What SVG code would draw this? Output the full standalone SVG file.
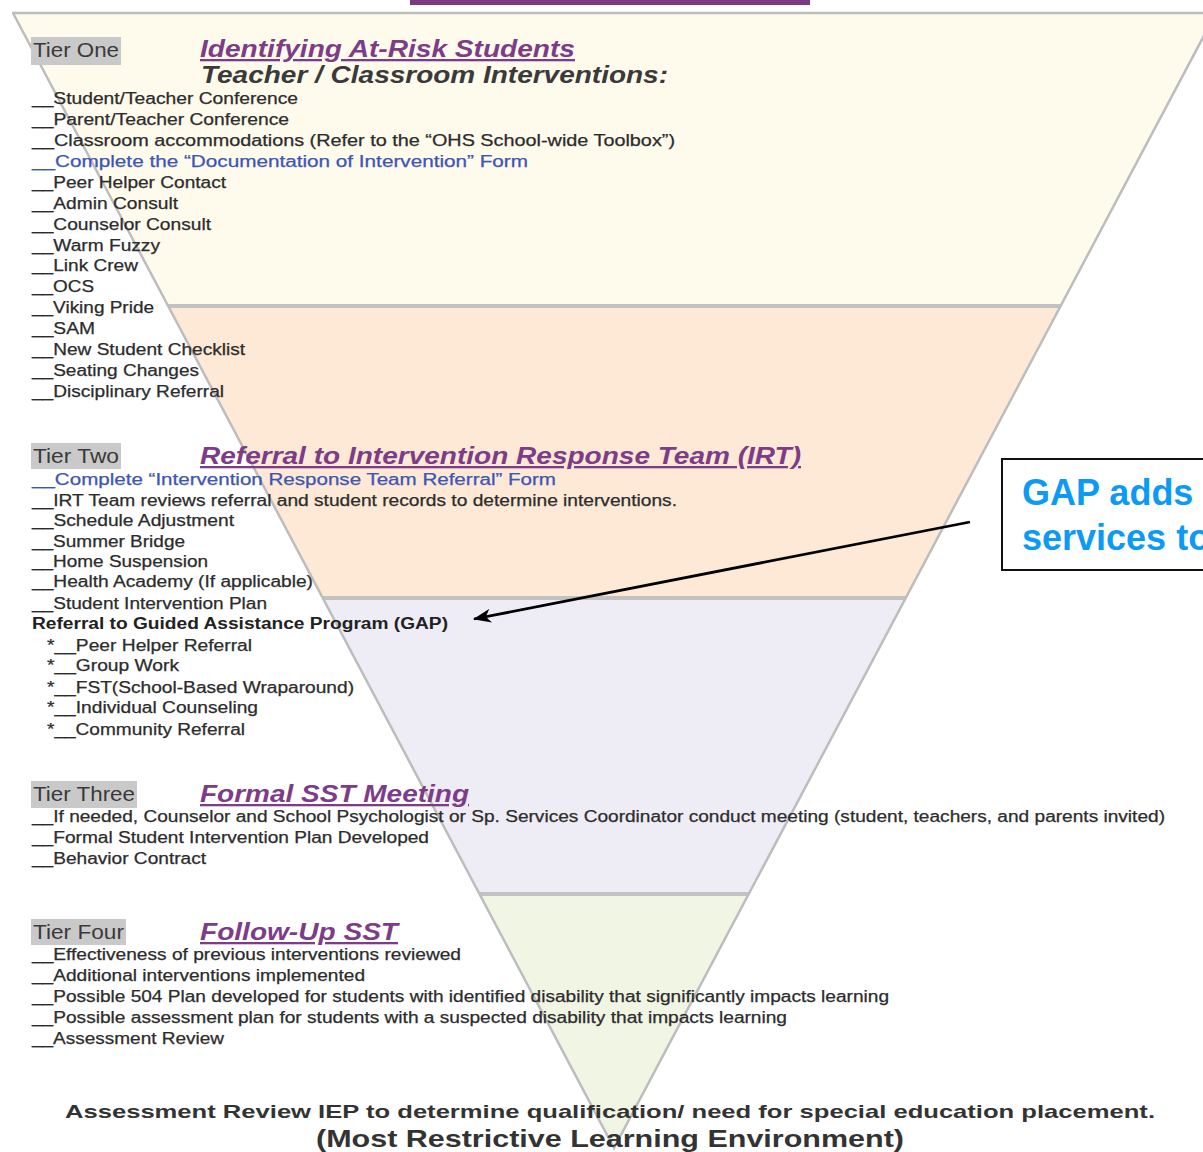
<svg xmlns="http://www.w3.org/2000/svg" width="1203" height="1152" viewBox="0 0 1203 1152">
<style>
  .txt { font-family: "Liberation Sans", Arial, sans-serif; font-size: 16px; fill: #2c2c2c; stroke: #2c2c2c; stroke-width: 0.25; }
  .blue { fill: #3d55b5; stroke: #3d55b5; }
  .gap { fill: #222; stroke: #222; font-weight: bold; stroke-width: 0; }
  .tier { font-family: "Liberation Sans", Arial, sans-serif; font-size: 21px; fill: #3a3a3a; }
  .tierbg { fill: #c9c9c9; }
  .head { font-family: "Liberation Sans", Arial, sans-serif; font-size: 23px; font-weight: bold; font-style: italic; fill: #7d3c87; text-decoration: underline; }
  .sub { font-family: "Liberation Sans", Arial, sans-serif; font-size: 23px; font-weight: bold; font-style: italic; fill: #3a3a3a; }
  .edge { stroke: #bdbdbd; stroke-width: 2.5; fill: none; }
  .divider { stroke: #c2c2c2; stroke-width: 4; fill: none; }
  .bottom { font-family: "Liberation Sans", Arial, sans-serif; font-weight: bold; fill: #333; }
  .callout { font-family: "Liberation Sans", Arial, sans-serif; font-size: 36px; font-weight: bold; fill: #0d9af5; }
</style>
<defs>
  <marker id="arrow" viewBox="0 0 18 14" refX="17" refY="7" markerWidth="18" markerHeight="14" markerUnits="userSpaceOnUse" orient="auto">
    <path d="M18,7 L0,0 L5,7 L0,14 Z" fill="#000"/>
  </marker>
</defs>
<rect x="0" y="0" width="1203" height="1152" fill="#ffffff"/>
<rect x="410" y="0" width="400" height="5" fill="#7b3b82"/>

<g id="funnel">
  <polygon points="13,13 1216,13 1060.6,306 168.1,306" fill="#fffbec"/>
  <polygon points="168.1,306 1060.6,306 905.7,598 322.8,598" fill="#fde9d5"/>
  <polygon points="322.8,598 905.7,598 748.7,894 479.5,894" fill="#eeedf6"/>
  <polygon points="479.5,894 748.7,894 614,1148" fill="#f1f5e4"/>
  <line class="divider" x1="168" y1="306" x2="1061" y2="306"/>
  <line class="divider" x1="323" y1="598" x2="906" y2="598"/>
  <line class="divider" x1="480" y1="894" x2="749" y2="894"/>
  <polyline class="edge" points="13,13 614,1148 1216,13"/>
  <line class="edge" x1="12" y1="13" x2="1216" y2="13" stroke-width="3.5"/>
</g>

<g id="tier-one">
  <rect class="tierbg" x="31" y="37" width="90" height="28"/>
  <text class="tier" x="33" y="57" textLength="86" lengthAdjust="spacingAndGlyphs">Tier One</text>
  <text class="head" x="200" y="57" textLength="375" lengthAdjust="spacingAndGlyphs">Identifying At-Risk Students</text>
  <text class="sub" x="201" y="83" textLength="467" lengthAdjust="spacingAndGlyphs">Teacher / Classroom Interventions:</text>
  <text class="txt" x="32" y="104" textLength="266" lengthAdjust="spacingAndGlyphs">__Student/Teacher Conference</text>
  <text class="txt" x="32" y="125" textLength="257" lengthAdjust="spacingAndGlyphs">__Parent/Teacher Conference</text>
  <text class="txt" x="32" y="146" textLength="643" lengthAdjust="spacingAndGlyphs">__Classroom accommodations (Refer to the “OHS School-wide Toolbox”)</text>
  <text class="txt blue" x="32" y="167" textLength="496" lengthAdjust="spacingAndGlyphs">__Complete the “Documentation of Intervention” Form</text>
  <text class="txt" x="32" y="188" textLength="194" lengthAdjust="spacingAndGlyphs">__Peer Helper Contact</text>
  <text class="txt" x="32" y="209" textLength="146" lengthAdjust="spacingAndGlyphs">__Admin Consult</text>
  <text class="txt" x="32" y="230" textLength="179" lengthAdjust="spacingAndGlyphs">__Counselor Consult</text>
  <text class="txt" x="32" y="251" textLength="128" lengthAdjust="spacingAndGlyphs">__Warm Fuzzy</text>
  <text class="txt" x="32" y="271" textLength="106" lengthAdjust="spacingAndGlyphs">__Link Crew</text>
  <text class="txt" x="32" y="292" textLength="62" lengthAdjust="spacingAndGlyphs">__OCS</text>
  <text class="txt" x="32" y="313" textLength="122" lengthAdjust="spacingAndGlyphs">__Viking Pride</text>
  <text class="txt" x="32" y="334" textLength="63" lengthAdjust="spacingAndGlyphs">__SAM</text>
  <text class="txt" x="32" y="355" textLength="213" lengthAdjust="spacingAndGlyphs">__New Student Checklist</text>
  <text class="txt" x="32" y="376" textLength="167" lengthAdjust="spacingAndGlyphs">__Seating Changes</text>
  <text class="txt" x="32" y="397" textLength="192" lengthAdjust="spacingAndGlyphs">__Disciplinary Referral</text>
</g>

<g id="tier-two">
  <rect class="tierbg" x="31" y="443" width="90" height="26"/>
  <text class="tier" x="33" y="463" textLength="86" lengthAdjust="spacingAndGlyphs">Tier Two</text>
  <text class="head" x="200" y="464" textLength="601" lengthAdjust="spacingAndGlyphs">Referral to Intervention Response Team (IRT)</text>
  <text class="txt blue" x="32" y="485" textLength="524" lengthAdjust="spacingAndGlyphs">__Complete “Intervention Response Team Referral” Form</text>
  <text class="txt" x="32" y="506" textLength="645" lengthAdjust="spacingAndGlyphs">__IRT Team reviews referral and student records to determine interventions.</text>
  <text class="txt" x="32" y="526" textLength="202" lengthAdjust="spacingAndGlyphs">__Schedule Adjustment</text>
  <text class="txt" x="32" y="547" textLength="153" lengthAdjust="spacingAndGlyphs">__Summer Bridge</text>
  <text class="txt" x="32" y="567" textLength="176" lengthAdjust="spacingAndGlyphs">__Home Suspension</text>
  <text class="txt" x="32" y="587" textLength="281" lengthAdjust="spacingAndGlyphs">__Health Academy (If applicable)</text>
  <text class="txt" x="32" y="609" textLength="235" lengthAdjust="spacingAndGlyphs">__Student Intervention Plan</text>
  <text class="txt gap" x="32" y="629" textLength="416" lengthAdjust="spacingAndGlyphs">Referral to Guided Assistance Program (GAP)</text>
  <text class="txt" x="47" y="651" textLength="205" lengthAdjust="spacingAndGlyphs">*__Peer Helper Referral</text>
  <text class="txt" x="47" y="671" textLength="132" lengthAdjust="spacingAndGlyphs">*__Group Work</text>
  <text class="txt" x="47" y="693" textLength="307" lengthAdjust="spacingAndGlyphs">*__FST(School-Based Wraparound)</text>
  <text class="txt" x="47" y="713" textLength="211" lengthAdjust="spacingAndGlyphs">*__Individual Counseling</text>
  <text class="txt" x="47" y="735" textLength="198" lengthAdjust="spacingAndGlyphs">*__Community Referral</text>
</g>

<g id="tier-three">
  <rect class="tierbg" x="31" y="781" width="106" height="27"/>
  <text class="tier" x="33" y="801" textLength="102" lengthAdjust="spacingAndGlyphs">Tier Three</text>
  <text class="head" x="200" y="802" textLength="269" lengthAdjust="spacingAndGlyphs">Formal SST Meeting</text>
  <text class="txt" x="32" y="822" textLength="1133" lengthAdjust="spacingAndGlyphs">__If needed, Counselor and School Psychologist or Sp. Services Coordinator conduct meeting (student, teachers, and parents invited)</text>
  <text class="txt" x="32" y="843" textLength="397" lengthAdjust="spacingAndGlyphs">__Formal Student Intervention Plan Developed</text>
  <text class="txt" x="32" y="864" textLength="174" lengthAdjust="spacingAndGlyphs">__Behavior Contract</text>
</g>

<g id="tier-four">
  <rect class="tierbg" x="31" y="919" width="95" height="26"/>
  <text class="tier" x="33" y="939" textLength="91" lengthAdjust="spacingAndGlyphs">Tier Four</text>
  <text class="head" x="200" y="940" textLength="198" lengthAdjust="spacingAndGlyphs">Follow-Up SST</text>
  <text class="txt" x="32" y="960" textLength="429" lengthAdjust="spacingAndGlyphs">__Effectiveness of previous interventions reviewed</text>
  <text class="txt" x="32" y="981" textLength="333" lengthAdjust="spacingAndGlyphs">__Additional interventions implemented</text>
  <text class="txt" x="32" y="1002" textLength="857" lengthAdjust="spacingAndGlyphs">__Possible 504 Plan developed for students with identified disability that significantly impacts learning</text>
  <text class="txt" x="32" y="1023" textLength="755" lengthAdjust="spacingAndGlyphs">__Possible assessment plan for students with a suspected disability that impacts learning</text>
  <text class="txt" x="32" y="1044" textLength="192" lengthAdjust="spacingAndGlyphs">__Assessment Review</text>
</g>

<g id="bottom-note">
  <text class="bottom" x="65" y="1118" font-size="19" textLength="1090" lengthAdjust="spacingAndGlyphs">Assessment Review IEP to determine qualification/ need for special education placement.</text>
  <text class="bottom" x="316" y="1147" font-size="24" textLength="588" lengthAdjust="spacingAndGlyphs">(Most Restrictive Learning Environment)</text>
</g>

<g id="callout">
  <rect x="1002" y="459" width="230" height="111" fill="#ffffff" stroke="#111" stroke-width="2"/>
  <text class="callout" x="1022" y="505">GAP adds</text>
  <text class="callout" x="1022" y="550">services to</text>
</g>

<g id="connectors">
  <line x1="970" y1="522" x2="474" y2="619" stroke="#000" stroke-width="2.8" marker-end="url(#arrow)"/>
</g>
</svg>
